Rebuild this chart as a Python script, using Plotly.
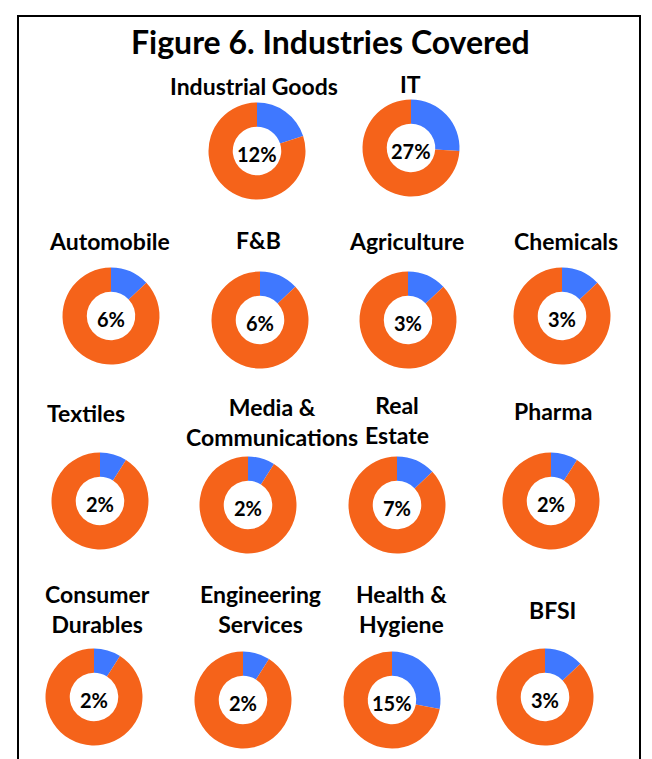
import plotly.graph_objects as go

W, H = 652, 759

# ---- data ----
industries = ["Industrial Goods", "IT", "Automobile", "F&B", "Agriculture", "Chemicals",
              "Textiles", "Media &<br>Communications", "Real<br>Estate", "Pharma",
              "Consumer<br>Durables", "Engineering<br>Services", "Health &<br>Hygiene", "BFSI"]
pct_labels = ["12%", "27%", "6%", "6%", "3%", "3%", "2%", "2%", "7%", "2%", "2%", "2%", "15%", "3%"]
# blue slice share as drawn in the picture
slice_share = [0.20, 0.26, 0.13, 0.13, 0.13, 0.13, 0.09, 0.09, 0.13, 0.09, 0.09, 0.09, 0.28, 0.13]

# ---- layout (pixel positions) ----
centers = [(257, 151), (411, 148),
           (111, 316), (260, 320), (408, 320), (562, 316),
           (100, 501), (248, 505), (397, 505), (551, 501),
           (94, 697), (243, 700), (392, 700), (545, 697)]
title_pos = [(254, 86), (410, 84),
             (109, 241), (258, 240), (406, 241), (566, 241),
             (86, 413), (272, 422), (397, 420), (553, 411),
             (97, 609), (260, 609), (401, 609), (552, 610)]
R = 48.5
BLUE = "#3F78FF"
ORANGE = "#F5631A"
FONT = "Lato"

fig = go.Figure()
annotations = []
for i, name in enumerate(industries):
    cx, cy = centers[i]
    fig.add_trace(go.Pie(
        values=[slice_share[i], 1 - slice_share[i]],
        labels=["Covered", "Other"],
        marker=dict(colors=[BLUE, ORANGE], line=dict(width=0)),
        hole=0.5, sort=False, direction="clockwise", rotation=0,
        textinfo="none", hoverinfo="skip", showlegend=False,
        domain=dict(x=[(cx - R) / W, (cx + R) / W], y=[1 - (cy + R) / H, 1 - (cy - R) / H]),
    ))
    annotations.append(dict(
        x=cx / W, y=1 - (cy + 3) / H, xref="paper", yref="paper",
        text="<b>" + pct_labels[i] + "</b>", showarrow=False,
        font=dict(family=FONT, size=20, color="black"), xanchor="center", yanchor="middle"))
    tx, ty = title_pos[i]
    annotations.append(dict(
        x=tx / W, y=1 - ty / H, xref="paper", yref="paper",
        text="<b>" + name + "</b>", showarrow=False,
        font=dict(family=FONT, size=23, color="black"), xanchor="center", yanchor="middle",
        align="center"))

annotations.append(dict(
    x=330 / W, y=1 - 41 / H, xref="paper", yref="paper",
    text="<b>Figure 6. Industries Covered</b>", showarrow=False,
    font=dict(family=FONT, size=32, color="black"), xanchor="center", yanchor="middle"))

fig.update_layout(
    width=W, height=H, margin=dict(l=0, r=0, t=0, b=0),
    paper_bgcolor="white", plot_bgcolor="white",
    annotations=annotations,
    shapes=[dict(type="rect", xref="paper", yref="paper",
                 x0=18 / W, x1=640 / W, y0=-0.05, y1=1 - 16 / H,
                 line=dict(color="black", width=2), fillcolor="rgba(0,0,0,0)")],
)

fig.write_html("out.html")
